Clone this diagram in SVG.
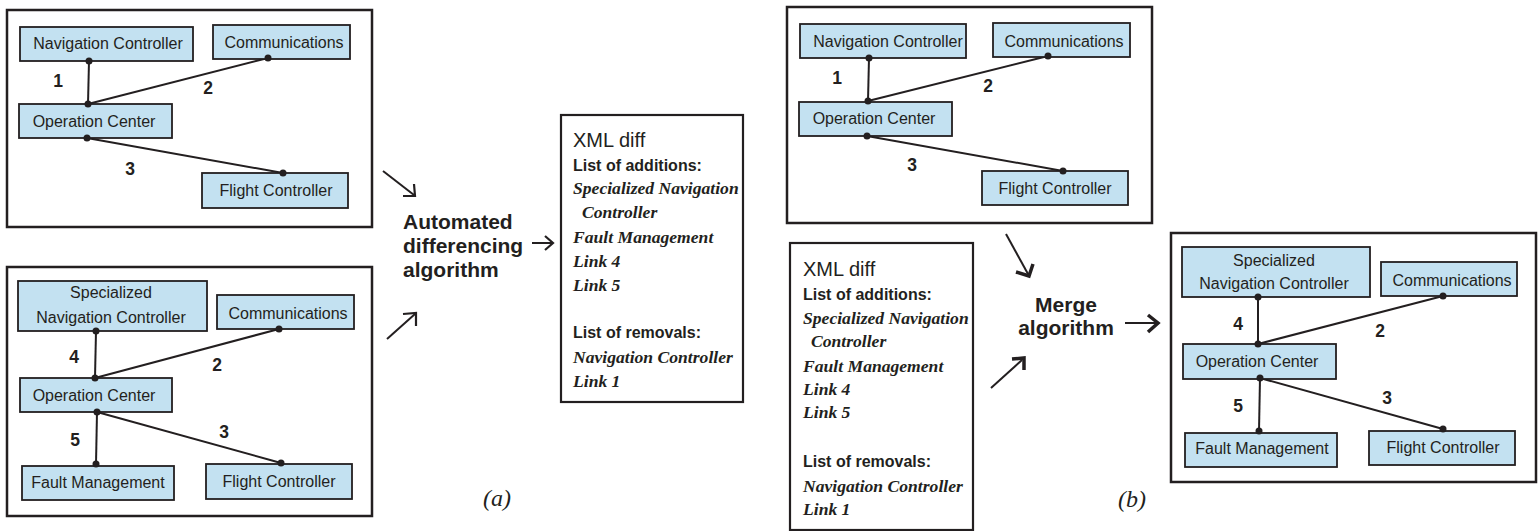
<svg xmlns="http://www.w3.org/2000/svg" width="1539" height="531" viewBox="0 0 1539 531">
<style>
.frame{fill:#fff;stroke:#231f20;stroke-width:2.5}
.box{fill:#c3e1f1;stroke:#231f20;stroke-width:1.8}
.xbox{fill:#fff;stroke:#231f20;stroke-width:2.2}
.t{font-family:"Liberation Sans",Arial,sans-serif;font-size:16px;fill:#231f20;text-anchor:middle}
.n{font-family:"Liberation Sans",Arial,sans-serif;font-size:17.5px;font-weight:bold;fill:#231f20;text-anchor:middle}
.link{stroke:#231f20;stroke-width:2;fill:none}
.dot{fill:#231f20}
.h{font-family:"Liberation Sans",Arial,sans-serif;font-size:20px;fill:#231f20}
.b{font-family:"Liberation Sans",Arial,sans-serif;font-size:16px;font-weight:bold;fill:#231f20}
.i{font-family:"Liberation Serif","Times New Roman",serif;font-size:17.6px;font-style:italic;font-weight:bold;fill:#231f20}
.alg{font-family:"Liberation Sans",Arial,sans-serif;font-size:21px;font-weight:bold;fill:#231f20}
.cap{font-family:"Liberation Serif","Times New Roman",serif;font-size:24px;font-style:italic;fill:#231f20}
.ar{stroke:#231f20;stroke-width:2;fill:none}
.arh{stroke:#231f20;stroke-width:2.2;fill:none;stroke-linejoin:miter}
.arb{stroke:#231f20;stroke-width:3.5;fill:none;stroke-linejoin:miter}
</style>

<!-- Frames -->
<g id="frame-a-top"><rect class="frame" x="7" y="10" width="365" height="217"/></g>
<g id="frame-a-bottom"><rect class="frame" x="7" y="267" width="365" height="249"/></g>
<g id="frame-b-top"><rect class="frame" x="787" y="7" width="365" height="216"/></g>
<g id="frame-b-result"><rect class="frame" x="1171" y="233" width="365" height="249"/></g>

<!-- Connectors -->
<g id="connectors">
  <line class="link" x1="89" y1="61" x2="88" y2="104"/>
  <line class="link" x1="88" y1="104" x2="268" y2="58"/>
  <line class="link" x1="87" y1="138" x2="283" y2="173"/>
  <line class="link" x1="96" y1="331" x2="95" y2="378"/>
  <line class="link" x1="95" y1="378" x2="279" y2="329"/>
  <line class="link" x1="97" y1="412" x2="96" y2="464"/>
  <line class="link" x1="97" y1="412" x2="281" y2="463"/>
  <line class="link" x1="869" y1="58" x2="868" y2="101"/>
  <line class="link" x1="868" y1="101" x2="1048" y2="56"/>
  <line class="link" x1="867" y1="136" x2="1063" y2="171"/>
  <line class="link" x1="1258" y1="297" x2="1258" y2="344"/>
  <line class="link" x1="1258" y1="344" x2="1443" y2="296"/>
  <line class="link" x1="1260" y1="378" x2="1259" y2="431"/>
  <line class="link" x1="1260" y1="378" x2="1443" y2="429"/>
</g>

<!-- Frame a-top nodes -->
<g id="a1-nav"><rect class="box" x="20" y="27" width="173" height="34"/><text class="t" x="108" y="49">Navigation Controller</text></g>
<g id="a1-comm"><rect class="box" x="213" y="25" width="137" height="34"/><text class="t" x="284" y="48">Communications</text></g>
<g id="a1-op"><rect class="box" x="19" y="104" width="153" height="34"/><text class="t" x="94" y="127">Operation Center</text></g>
<g id="a1-fc"><rect class="box" x="202" y="173" width="146" height="35"/><text class="t" x="276" y="196">Flight Controller</text></g>

<!-- Frame a-bottom nodes -->
<g id="a2-snc"><rect class="box" x="18" y="281" width="189" height="50"/><text class="t" x="111" y="298">Specialized</text><text class="t" x="111" y="323">Navigation Controller</text></g>
<g id="a2-comm"><rect class="box" x="217" y="295" width="137" height="34"/><text class="t" x="288" y="319">Communications</text></g>
<g id="a2-op"><rect class="box" x="20" y="378" width="152" height="34"/><text class="t" x="94" y="401">Operation Center</text></g>
<g id="a2-fm"><rect class="box" x="22" y="466" width="152" height="34"/><text class="t" x="98" y="488">Fault Management</text></g>
<g id="a2-fc"><rect class="box" x="206" y="464" width="146" height="35"/><text class="t" x="279" y="487">Flight Controller</text></g>

<!-- Frame b-top nodes -->
<g id="b1-nav"><rect class="box" x="800" y="24" width="166" height="34"/><text class="t" x="888" y="47">Navigation Controller</text></g>
<g id="b1-comm"><rect class="box" x="993" y="23" width="137" height="34"/><text class="t" x="1064" y="47">Communications</text></g>
<g id="b1-op"><rect class="box" x="799" y="102" width="153" height="34"/><text class="t" x="874" y="124">Operation Center</text></g>
<g id="b1-fc"><rect class="box" x="982" y="171" width="146" height="34"/><text class="t" x="1055" y="194">Flight Controller</text></g>

<!-- Frame b-result nodes -->
<g id="b2-snc"><rect class="box" x="1182" y="247" width="188" height="50"/><text class="t" x="1274" y="266">Specialized</text><text class="t" x="1274" y="289">Navigation Controller</text></g>
<g id="b2-comm"><rect class="box" x="1381" y="262" width="136" height="34"/><text class="t" x="1452" y="286">Communications</text></g>
<g id="b2-op"><rect class="box" x="1183" y="344" width="153" height="35"/><text class="t" x="1257" y="367">Operation Center</text></g>
<g id="b2-fm"><rect class="box" x="1185" y="433" width="152" height="34"/><text class="t" x="1262" y="454">Fault Management</text></g>
<g id="b2-fc"><rect class="box" x="1369" y="431" width="146" height="34"/><text class="t" x="1443" y="453">Flight Controller</text></g>

<!-- Dots -->
<g id="dots">
  <circle class="dot" cx="89" cy="61" r="3.5"/><circle class="dot" cx="88" cy="104" r="3.5"/><circle class="dot" cx="268" cy="58" r="3.5"/><circle class="dot" cx="87" cy="138" r="3.5"/><circle class="dot" cx="283" cy="173" r="3.5"/>
  <circle class="dot" cx="96" cy="331" r="3.5"/><circle class="dot" cx="95" cy="378" r="3.5"/><circle class="dot" cx="279" cy="329" r="3.5"/><circle class="dot" cx="97" cy="412" r="3.5"/><circle class="dot" cx="96" cy="464" r="3.5"/><circle class="dot" cx="281" cy="463" r="3.5"/>
  <circle class="dot" cx="869" cy="58" r="3.5"/><circle class="dot" cx="868" cy="101" r="3.5"/><circle class="dot" cx="1048" cy="56" r="3.5"/><circle class="dot" cx="867" cy="136" r="3.5"/><circle class="dot" cx="1063" cy="171" r="3.5"/>
  <circle class="dot" cx="1258" cy="297" r="3.5"/><circle class="dot" cx="1258" cy="344" r="3.5"/><circle class="dot" cx="1443" cy="296" r="3.5"/><circle class="dot" cx="1260" cy="378" r="3.5"/><circle class="dot" cx="1259" cy="431" r="3.5"/><circle class="dot" cx="1443" cy="429" r="3.5"/>
</g>

<!-- Link labels -->
<g id="link-labels">
  <text class="n" x="58" y="87">1</text><text class="n" x="208" y="94">2</text><text class="n" x="130" y="175">3</text>
  <text class="n" x="74" y="363">4</text><text class="n" x="217" y="371">2</text><text class="n" x="75" y="446">5</text><text class="n" x="224" y="438">3</text>
  <text class="n" x="837" y="84">1</text><text class="n" x="988" y="92">2</text><text class="n" x="912" y="171">3</text>
  <text class="n" x="1238" y="330">4</text><text class="n" x="1380" y="337">2</text><text class="n" x="1238" y="412">5</text><text class="n" x="1387" y="404">3</text>
</g>

<!-- XML diff boxes -->
<g id="xml-diff-a">
  <rect class="xbox" x="561" y="115" width="182" height="287"/>
  <text class="h" x="573" y="147">XML diff</text>
  <text class="b" x="573" y="171">List of additions:</text>
  <text class="i" x="573" y="194">Specialized Navigation</text>
  <text class="i" x="582" y="218">Controller</text>
  <text class="i" x="573" y="243">Fault Management</text>
  <text class="i" x="573" y="267">Link 4</text>
  <text class="i" x="573" y="291">Link 5</text>
  <text class="b" x="573" y="338">List of removals:</text>
  <text class="i" x="573" y="363">Navigation Controller</text>
  <text class="i" x="573" y="387">Link 1</text>
</g>
<g id="xml-diff-b">
  <rect class="xbox" x="790" y="243" width="183" height="287"/>
  <text class="h" x="803" y="276">XML diff</text>
  <text class="b" x="803" y="300">List of additions:</text>
  <text class="i" x="803" y="324">Specialized Navigation</text>
  <text class="i" x="811" y="347">Controller</text>
  <text class="i" x="803" y="372">Fault Management</text>
  <text class="i" x="803" y="395">Link 4</text>
  <text class="i" x="803" y="418">Link 5</text>
  <text class="b" x="803" y="467">List of removals:</text>
  <text class="i" x="803" y="492">Navigation Controller</text>
  <text class="i" x="803" y="515">Link 1</text>
</g>

<!-- Algorithms -->
<g id="diff-algorithm">
  <text class="alg" x="403" y="229">Automated</text>
  <text class="alg" x="403" y="253">differencing</text>
  <text class="alg" x="403" y="277">algorithm</text>
</g>
<g id="merge-algorithm">
  <text class="alg" x="1066" y="312" text-anchor="middle">Merge</text>
  <text class="alg" x="1066" y="335" text-anchor="middle">algorithm</text>
</g>

<!-- Flow arrows -->
<g id="flow-arrows">
  <line class="ar" x1="383" y1="171" x2="414" y2="195"/>
  <path class="arh" d="M403,196 L415,196 L414,184"/>
  <line class="ar" x1="387" y1="339" x2="415" y2="314"/>
  <path class="arh" d="M403,314 L416,313 L416,326"/>
  <line class="ar" x1="532" y1="243" x2="552" y2="243"/>
  <path class="arh" d="M545,236 L553,243 L545,250"/>
  <line class="ar" x1="1006" y1="234" x2="1028" y2="274"/>
  <path class="arb" d="M1016,272 L1029,276 L1033,264"/>
  <line class="ar" x1="991" y1="388" x2="1022" y2="360"/>
  <path class="arb" d="M1012,359 L1024,358 L1024,370"/>
  <line class="ar" x1="1125" y1="323" x2="1157" y2="323"/>
  <path class="arb" d="M1148,315 L1158,323 L1148,332"/>
</g>

<!-- Captions -->
<text class="cap" x="483" y="506">(a)</text>
<text class="cap" x="1118" y="507">(b)</text>
</svg>
